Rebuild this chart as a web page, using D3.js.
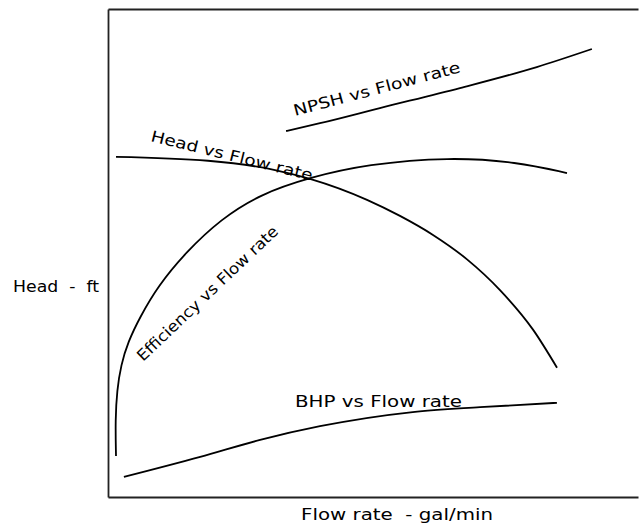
<!DOCTYPE html>
<html>
<head>
<meta charset="utf-8">
<script src="https://cdn.jsdelivr.net/npm/d3@7"></script>
<style>
	body { margin: 0; background: #fff; }
	text { font-family: "DejaVu Sans", Verdana, sans-serif; fill: #000; white-space: pre; }
</style>
</head>
<body>
<div id="chart-area"></div>
<script>

// Curve data (flow rate vs value, arbitrary 0-100 units, no ticks on the chart)
let headFlow = [1.51, 18.87, 31.51, 38.11, 48.87, 55.09, 61.32, 67.74, 73.96, 80.19, 84.72];
let headVal  = [69.7, 68.9, 67.0, 65.2, 60.9, 57.6, 53.7, 48.7, 42.4, 34.3, 26.5];

let effFlow = [1.51, 1.38, 1.70, 2.45, 3.77, 6.04, 9.43, 14.72, 21.32, 28.68, 38.11, 48.87, 64.53, 77.17, 86.60];
let effVal  = [8.40, 15.78, 21.93, 27.05, 31.76, 36.89, 43.24, 50.20, 56.97, 62.03, 65.51, 68.20, 69.67, 68.65, 66.39];

let npshFlow = [33.6, 40.0, 51.3, 66.4, 80.9, 91.3];
let npshVal  = [75.0, 76.6, 79.7, 83.8, 88.1, 91.8];

let bhpFlow = [3.0, 17.4, 28.7, 40.0, 57.5, 70.2, 84.7];
let bhpVal  = [4.1, 8.2, 11.7, 14.5, 17.4, 18.4, 19.3];

let xLabel = "Flow rate  - gal/min";
let yLabel = "Head  -  ft";

drawChart();

function drawChart(){

	let width = 639, height = 527;
	let margin = {top: 9, right: 1, bottom: 30, left: 108};

	let svg = d3.select("#chart-area").append("svg")
		.attr("width", width)
		.attr("height", height);

	// scales
	let x = d3.scaleLinear()
		.domain([0, 100])
		.range([margin.left, width - margin.right]);

	let y = d3.scaleLinear()
		.domain([0, 100])
		.range([height - margin.bottom, margin.top]);

	// frame: left, bottom and top lines, no ticks
	svg.append("g")
		.attr("transform", `translate(0, ${y(0)})`)
		.call(d3.axisBottom(x).tickValues([]).tickSizeOuter(0))
		.select(".domain").attr("stroke", "#222").attr("stroke-width", 1.8);

	svg.append("g")
		.attr("transform", `translate(${x(0)}, 0)`)
		.call(d3.axisLeft(y).tickValues([]).tickSizeOuter(0))
		.select(".domain").attr("stroke", "#222").attr("stroke-width", 1.8);

	svg.append("g")
		.attr("transform", `translate(0, ${y(100)})`)
		.call(d3.axisTop(x).tickValues([]).tickSizeOuter(0))
		.select(".domain").attr("stroke", "#222").attr("stroke-width", 1.8);

	// curves
	let lineX = d3.line()
		.x(d => x(d[0]))
		.y(d => y(d[1]))
		.curve(d3.curveMonotoneX);

	let lineFree = d3.line()
		.x(d => x(d[0]))
		.y(d => y(d[1]))
		.curve(d3.curveBasis);

	let series = [
		{pts: d3.zip(headFlow, headVal), gen: lineX},
		{pts: d3.zip(effFlow, effVal), gen: lineFree},
		{pts: d3.zip(npshFlow, npshVal), gen: lineX},
		{pts: d3.zip(bhpFlow, bhpVal), gen: lineX}
	];

	svg.selectAll(".curve").data(series)
		.enter().append("path")
		.attr("class", "curve")
		.attr("d", d => d.gen(d.pts))
		.attr("fill", "none")
		.attr("stroke", "#000")
		.attr("stroke-width", 1.8);

	// curve labels
	let labels = [
		{t: "Head vs Flow rate", x: 150, y: 141, a: 13.8, len: 166},
		{t: "NPSH vs Flow rate", x: 295, y: 116, a: -14.8, len: 172},
		{t: "Efficiency vs Flow rate", x: 143, y: 362, a: -43.5, len: 188},
		{t: "BHP vs Flow rate", x: 295, y: 407, a: 0, len: 167}
	];

	svg.selectAll(".curve-label").data(labels)
		.enter().append("text")
		.attr("class", "curve-label")
		.attr("transform", d => `translate(${d.x},${d.y}) rotate(${d.a})`)
		.attr("font-size", 15.5)
		.attr("textLength", d => d.len)
		.attr("lengthAdjust", "spacingAndGlyphs")
		.text(d => d.t);

	// axis titles
	svg.append("text")
		.attr("x", 13)
		.attr("y", 292)
		.attr("font-size", 15.5)
		.attr("textLength", 86)
		.attr("lengthAdjust", "spacingAndGlyphs")
		.text(yLabel);

	svg.append("text")
		.attr("x", 301)
		.attr("y", 520)
		.attr("font-size", 15.5)
		.attr("textLength", 192)
		.attr("lengthAdjust", "spacingAndGlyphs")
		.text(xLabel);
}

</script>
</body>
</html>
